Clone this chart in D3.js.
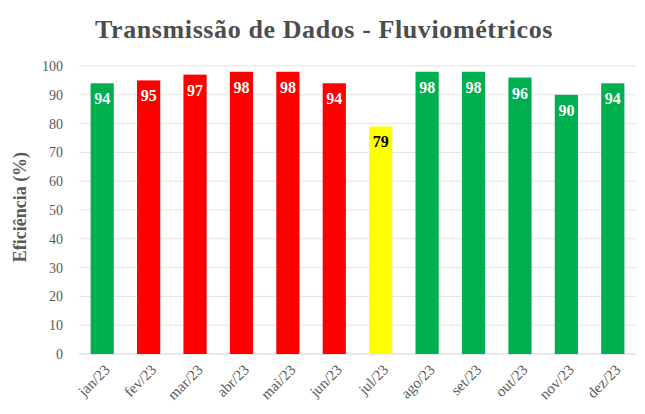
<!DOCTYPE html>
<html>
<head>
<meta charset="utf-8">
<script src="https://cdn.jsdelivr.net/npm/d3@7"></script>
<style>
  body { margin: 0; background: #fff; }
  text { font-family: "Liberation Serif", "Times New Roman", serif; }
</style>
</head>
<body>
<div id="chart"></div>
<script>
const months = ['jan/23', 'fev/23', 'mar/23', 'abr/23', 'mai/23', 'jun/23', 'jul/23', 'ago/23', 'set/23', 'out/23', 'nov/23', 'dez/23'];
const values = [94, 95, 97, 98, 98, 94, 79, 98, 98, 96, 90, 94];
const status = ['ok', 'bad', 'bad', 'bad', 'bad', 'bad', 'warn', 'ok', 'ok', 'ok', 'ok', 'ok'];
const yTicks = [0, 10, 20, 30, 40, 50, 60, 70, 80, 90, 100];

const colors = { ok: '#00b050', bad: '#ff0000', warn: '#ffff00' };

const width = 645;
const height = 414;
const margin = { top: 66, right: 9, bottom: 60, left: 79 };

const svg = d3.select('#chart').append('svg')
  .attr('width', width)
  .attr('height', height);

const x = d3.scaleBand()
  .domain(months)
  .range([margin.left, width - margin.right])
  .paddingInner(0.5)
  .paddingOuter(0.25);

const y = d3.scaleLinear()
  .domain([0, 100])
  .range([height - margin.bottom, margin.top]);

// gridlines
svg.append('g')
  .selectAll('line')
  .data(yTicks)
  .join('line')
  .attr('x1', margin.left)
  .attr('x2', width - margin.right)
  .attr('y1', d => y(d))
  .attr('y2', d => y(d))
  .attr('stroke', d => d === 0 ? '#d0d0d0' : '#e3e3e3')
  .attr('stroke-width', 1);

// y tick labels
svg.append('g')
  .selectAll('text')
  .data(yTicks)
  .join('text')
  .attr('x', 63)
  .attr('y', d => y(d))
  .attr('dy', '0.35em')
  .attr('text-anchor', 'end')
  .attr('fill', '#595959')
  .style('font-size', '14px')
  .text(d => d);

// bars
svg.append('g')
  .selectAll('rect')
  .data(values)
  .join('rect')
  .attr('x', (d, i) => x(months[i]))
  .attr('y', d => y(d))
  .attr('width', x.bandwidth())
  .attr('height', d => y(0) - y(d))
  .attr('fill', (d, i) => colors[status[i]]);

// value labels
svg.append('g')
  .selectAll('text')
  .data(values)
  .join('text')
  .attr('x', (d, i) => x(months[i]) + x.bandwidth() / 2)
  .attr('y', d => y(d) + 21)
  .attr('text-anchor', 'middle')
  .attr('fill', (d, i) => status[i] === 'warn' ? '#000' : '#fff')
  .style('font-size', '16px')
  .style('font-weight', 'bold')
  .text(d => d);

// x labels
svg.append('g')
  .selectAll('text')
  .data(months)
  .join('text')
  .attr('transform', d => `translate(${x(d) + x.bandwidth() / 2 + 5},${y(0) + 13}) rotate(-45)`)
  .attr('text-anchor', 'end')
  .attr('dy', '0.35em')
  .attr('fill', '#595959')
  .style('font-size', '15px')
  .text(d => d);

// title
svg.append('text')
  .attr('x', 324)
  .attr('y', 38)
  .attr('text-anchor', 'middle')
  .attr('fill', '#4d4d4d')
  .style('font-size', '26px')
  .style('font-weight', 'bold')
  .style('letter-spacing', '0.6px')
  .text('Transmissão  de Dados  - Fluviométricos');

// y axis title
svg.append('text')
  .attr('transform', `translate(26,${y(51)}) rotate(-90)`)
  .attr('text-anchor', 'middle')
  .attr('fill', '#595959')
  .style('font-size', '18px')
  .style('font-weight', 'bold')
  .text('Eficiência (%)');
</script>
</body>
</html>
